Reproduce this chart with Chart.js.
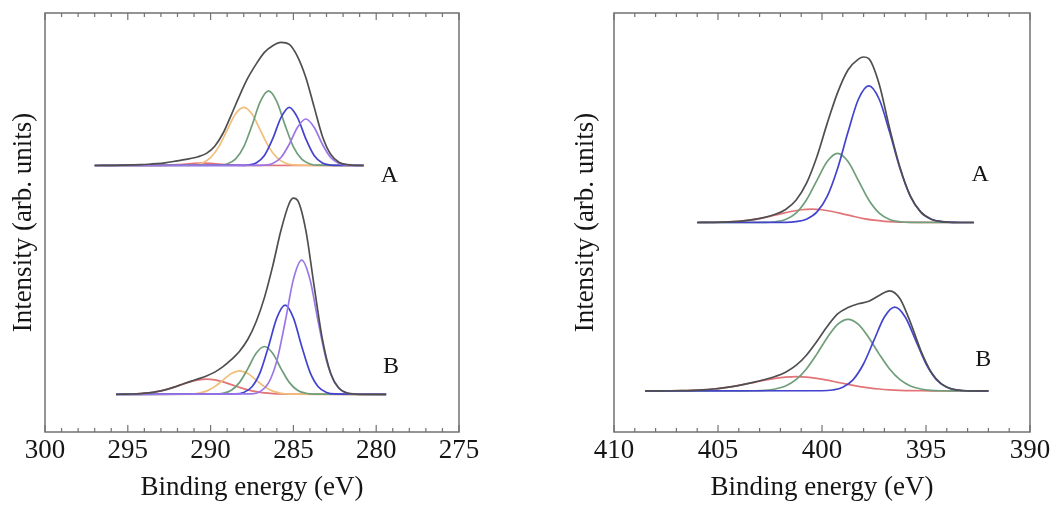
<!DOCTYPE html>
<html>
<head>
<meta charset="utf-8">
<script src="https://cdn.jsdelivr.net/npm/chart.js@4.4.0/dist/chart.umd.min.js"></script>
<style>
  html, body { margin: 0; padding: 0; background: #fff; }
  #wrap { position: relative; width: 1057px; height: 506px; }
  .panel { position: absolute; top: 0; height: 506px; }
  #c1s { left: 0; width: 530px; }
  #n1s { left: 530px; width: 527px; }
</style>
</head>
<body>
<div id="wrap">
  <div class="panel" id="c1s"><canvas id="c1sChart"></canvas></div>
  <div class="panel" id="n1s"><canvas id="n1sChart"></canvas></div>
</div>
<script>
// vertical offsets of the stacked spectra
const c1sOffsetA = 63.6;
const c1sOffsetB = 9.0;
const n1sOffsetA = 50.0;
const n1sOffsetB = 9.8;

// C 1s, spectrum A
const cA_env_x = [297.0, 295.75, 295.25, 294.75, 294.25, 293.75, 293.25, 292.75, 292.25, 291.75, 291.25, 290.75, 290.25, 289.75, 289.25, 288.75, 288.25, 287.75, 287.25, 286.75, 286.25, 285.75, 285.25, 284.75, 284.25, 283.75, 283.25, 282.75, 282.25, 281.75, 281.25, 280.75];
const cA_env_y = [0, 0.05, 0.1, 0.15, 0.2, 0.3, 0.45, 0.65, 0.95, 1.3, 1.65, 2.1, 2.9, 4.6, 7.7, 12.1, 16.7, 20.9, 24.2, 27.0, 28.6, 29.4, 28.9, 26.0, 21.0, 14.0, 7.0, 2.7, 0.8, 0.2, 0.05, 0];
const cA_red_x = [297, 293.5, 293, 292.5, 292, 291.5, 291, 290.5, 290, 289.5, 289, 288.5, 288, 287.5, 280.75];
const cA_red_y = [0, 0.01, 0.03, 0.08, 0.19, 0.36, 0.53, 0.6, 0.53, 0.36, 0.19, 0.08, 0.03, 0.01, 0];
const cA_orange_x = [297, 291, 290.5, 290, 289.5, 289, 288.5, 288, 287.5, 287, 286.5, 286, 285.5, 285, 280.75];
const cA_orange_y = [0, 0.15, 0.61, 1.88, 4.51, 8.43, 12.27, 13.9, 12.27, 8.43, 4.51, 1.88, 0.61, 0.15, 0];
const cA_green_x = [297, 289.5, 289, 288.5, 288, 287.5, 287, 286.5, 286, 285.5, 285, 284.5, 284, 283.5, 280.75];
const cA_green_y = [0, 0.07, 0.38, 1.51, 4.43, 9.59, 15.25, 17.8, 15.25, 9.59, 4.43, 1.51, 0.38, 0.07, 0];
const cA_blue_x = [297, 288.25, 287.75, 287.25, 286.75, 286.25, 285.75, 285.25, 284.75, 284.25, 283.75, 283.25, 282.75, 282.25, 280.75];
const cA_blue_y = [0, 0.01, 0.11, 0.61, 2.39, 6.37, 11.44, 13.9, 11.44, 6.37, 2.39, 0.61, 0.11, 0.01, 0];
const cA_purple_x = [297, 287.25, 286.75, 286.25, 285.75, 285.25, 284.75, 284.25, 283.75, 283.25, 282.75, 282.25, 281.75, 281.25, 280.75];
const cA_purple_y = [0, 0.01, 0.08, 0.49, 1.91, 5.08, 9.14, 11.1, 9.14, 5.08, 1.91, 0.49, 0.08, 0.01, 0];

// C 1s, spectrum B
const cB_env_x = [295.7, 295.25, 294.75, 294.25, 293.75, 293.25, 292.75, 292.25, 291.75, 291.25, 290.75, 290.25, 289.75, 289.25, 288.75, 288.25, 287.75, 287.25, 286.75, 286.25, 285.75, 285.25, 285.0, 284.75, 284.25, 283.75, 283.25, 282.75, 282.25, 281.75, 281.25, 280.75, 279.4];
const cB_env_y = [0, 0.03, 0.07, 0.16, 0.33, 0.62, 1.06, 1.65, 2.33, 3.02, 3.68, 4.37, 5.29, 6.6, 8.25, 10.29, 13.13, 17.31, 23.07, 30.58, 39.14, 45.6, 46.8, 46.3, 39.14, 25.88, 13.13, 5.03, 1.43, 0.3, 0.05, 0, 0];
const cB_red_x = [295.7, 295.25, 294.75, 294.25, 293.75, 293.25, 292.75, 292.25, 291.75, 291.25, 290.75, 290.25, 289.75, 289.25, 288.75, 288.25, 287.75, 287.25, 286.75, 286.25, 285.75, 285.25, 279.4];
const cB_red_y = [0, 0.03, 0.07, 0.16, 0.33, 0.62, 1.06, 1.65, 2.32, 2.96, 3.43, 3.6, 3.43, 2.96, 2.32, 1.65, 1.06, 0.62, 0.33, 0.16, 0.07, 0.03, 0];
const cB_orange_x = [295.7, 291.25, 290.75, 290.25, 289.75, 289.25, 288.75, 288.25, 287.75, 287.25, 286.75, 286.25, 285.75, 285.25, 279.4];
const cB_orange_y = [0, 0.06, 0.25, 0.76, 1.82, 3.4, 4.94, 5.6, 4.94, 3.4, 1.82, 0.76, 0.25, 0.06, 0];
const cB_green_x = [295.7, 289.75, 289.25, 288.75, 288.25, 287.75, 287.25, 286.75, 286.25, 285.75, 285.25, 284.75, 284.25, 283.75, 279.4];
const cB_green_y = [0, 0.04, 0.24, 0.96, 2.84, 6.14, 9.77, 11.4, 9.77, 6.14, 2.84, 0.96, 0.24, 0.04, 0];
const cB_blue_x = [295.7, 288.5, 288, 287.5, 287, 286.5, 286, 285.5, 285, 284.5, 284, 283.5, 283, 282.5, 279.4];
const cB_blue_y = [0, 0.08, 0.45, 1.8, 5.3, 11.48, 18.25, 21.3, 18.25, 11.48, 5.3, 1.8, 0.45, 0.08, 0];
const cB_purple_x = [295.7, 287.5, 287, 286.5, 286, 285.5, 285, 284.5, 284, 283.5, 283, 282.5, 282, 281.5, 279.4];
const cB_purple_y = [0, 0.12, 0.68, 2.71, 7.97, 17.25, 27.42, 32, 27.42, 17.25, 7.97, 2.71, 0.68, 0.12, 0];

// N 1s, spectrum A
const nA_env_x = [406.0, 405.75, 405.25, 404.75, 404.25, 403.75, 403.25, 402.75, 402.25, 401.75, 401.25, 400.75, 400.25, 399.75, 399.25, 398.75, 398.25, 398.0, 397.75, 397.25, 396.75, 396.25, 395.75, 395.25, 394.75, 394.25, 393.75, 393.25, 392.7];
const nA_env_y = [0, 0.01, 0.04, 0.09, 0.2, 0.41, 0.74, 1.23, 1.95, 3.12, 5.31, 9.31, 15.63, 23.66, 31.0, 36.4, 39.0, 39.5, 39.1, 33.0, 22.5, 13.15, 6.31, 2.47, 0.79, 0.21, 0.04, 0, 0];
const nA_red_x = [406, 405.5, 405, 404.5, 404, 403.5, 403, 402.5, 402, 401.5, 401, 400.5, 400, 399.5, 399, 398.5, 398, 397.5, 397, 396.5, 396, 395.5, 392.7];
const nA_red_y = [0, 0.02, 0.06, 0.14, 0.29, 0.55, 0.94, 1.47, 2.06, 2.63, 3.05, 3.2, 3.05, 2.63, 2.06, 1.47, 0.94, 0.55, 0.29, 0.14, 0.06, 0.02, 0];
const nA_green_x = [406, 402.75, 402.25, 401.75, 401.25, 400.75, 400.25, 399.75, 399.25, 398.75, 398.25, 397.75, 397.25, 396.75, 396.25, 395.75, 392.7];
const nA_green_y = [0, 0.04, 0.18, 0.72, 2.23, 5.36, 10.01, 14.56, 16.5, 14.56, 10.01, 5.36, 2.23, 0.72, 0.18, 0.04, 0];
const nA_blue_x = [406, 401.75, 401.25, 400.75, 400.25, 399.75, 399.25, 398.75, 398.25, 397.75, 397.25, 396.75, 396.25, 395.75, 395.25, 394.75, 394.25, 393.75, 392.7];
const nA_blue_y = [0, 0.04, 0.21, 0.79, 2.46, 6.23, 12.88, 21.58, 29.41, 32.6, 29.41, 21.58, 12.88, 6.23, 2.46, 0.79, 0.21, 0.04, 0];

// N 1s, spectrum B
const nB_env_x = [408.5, 408.25, 407.75, 407.25, 406.75, 406.25, 405.75, 405.25, 404.75, 404.25, 403.75, 403.25, 402.75, 402.25, 401.75, 401.25, 400.75, 400.25, 399.75, 399.25, 398.75, 398.25, 397.75, 397.25, 396.75, 396.25, 395.75, 395.25, 394.75, 394.25, 393.75, 393.25, 392.75, 392.25, 392.0];
const nB_env_y = [0, 0.01, 0.02, 0.04, 0.08, 0.15, 0.27, 0.46, 0.74, 1.1, 1.57, 2.1, 2.72, 3.46, 4.48, 6.08, 8.52, 11.81, 15.39, 18.41, 19.9, 20.8, 21.4, 22.8, 23.9, 22.0, 16.37, 9.66, 4.5, 1.63, 0.47, 0.1, 0.02, 0, 0];
const nB_red_x = [408.5, 408.25, 407.75, 407.25, 406.75, 406.25, 405.75, 405.25, 404.75, 404.25, 403.75, 403.25, 402.75, 402.25, 401.75, 401.25, 400.75, 400.25, 399.75, 399.25, 398.75, 398.25, 397.75, 397.25, 396.75, 396.25, 395.75, 395.25, 394.75, 394.25, 392.0];
const nB_red_y = [0, 0.01, 0.02, 0.04, 0.08, 0.15, 0.27, 0.46, 0.74, 1.1, 1.56, 2.06, 2.57, 3.0, 3.29, 3.4, 3.29, 3.0, 2.57, 2.06, 1.56, 1.1, 0.74, 0.46, 0.27, 0.15, 0.08, 0.04, 0.02, 0.01, 0];
const nB_green_x = [408.5, 403.75, 403.25, 402.75, 402.25, 401.75, 401.25, 400.75, 400.25, 399.75, 399.25, 398.75, 398.25, 397.75, 397.25, 396.75, 396.25, 395.75, 395.25, 394.75, 394.25, 393.75, 392.0];
const nB_green_y = [0, 0.01, 0.04, 0.15, 0.46, 1.19, 2.68, 5.23, 8.79, 12.72, 15.89, 17.1, 15.89, 12.72, 8.79, 5.23, 2.68, 1.19, 0.46, 0.15, 0.04, 0.01, 0];
const nB_blue_x = [408.5, 400, 399.5, 399, 398.5, 398, 397.5, 397, 396.5, 396, 395.5, 395, 394.5, 394, 393.5, 393, 392.0];
const nB_blue_y = [0, 0.04, 0.22, 0.88, 2.71, 6.49, 12.13, 17.65, 20, 17.65, 12.13, 6.49, 2.71, 0.88, 0.22, 0.04, 0];

const colors = {
  env: '#4f4f4f',
  red: '#e27478',
  orange: '#f2be7c',
  green: '#6f9e7a',
  blue: '#4343cf',
  purple: '#9b76e8'
};

function line(xs, ys, offset, color) {
  return {
    data: xs.map((x, i) => ({ x: x, y: ys[i] + offset })),
    borderColor: color,
    borderWidth: 1.7,
    pointRadius: 0,
    fill: false,
    cubicInterpolationMode: 'monotone'
  };
}

const serif = "'Liberation Serif', 'Times New Roman', serif";

const framePlugin = {
  id: 'frame',
  afterDraw(chart, args, opts) {
    const { ctx, chartArea: a, scales: { x, y } } = chart;
    ctx.save();
    ctx.strokeStyle = '#727272';
    ctx.lineWidth = 1.5;
    ctx.strokeRect(a.left, a.top, a.right - a.left, a.bottom - a.top);
    ctx.lineWidth = 1.2;
    const lo = Math.min(x.min, x.max), hi = Math.max(x.min, x.max);
    for (let v = Math.ceil(lo); v <= hi; v++) {
      const px = x.getPixelForValue(v);
      const len = v % 5 === 0 ? 7 : 4;
      ctx.beginPath();
      ctx.moveTo(px, a.bottom);
      ctx.lineTo(px, a.bottom - len);
      ctx.moveTo(px, a.top);
      ctx.lineTo(px, a.top + len);
      ctx.stroke();
    }
    ctx.fillStyle = '#151515';
    ctx.font = '24px ' + serif;
    ctx.textAlign = 'center';
    ctx.textBaseline = 'alphabetic';
    opts.tags.forEach(t => ctx.fillText(t.text, x.getPixelForValue(t.x), y.getPixelForValue(t.y)));
    ctx.restore();
  }
};

function makeChart(id, datasets, xmin, xmax, padRight, yWidth, titlePad, tags) {
  return new Chart(document.getElementById(id), {
    type: 'line',
    data: { datasets: datasets },
    options: {
      responsive: true,
      maintainAspectRatio: false,
      animation: false,
      layout: { padding: { left: 0, right: padRight, top: 13, bottom: 0 } },
      plugins: {
        legend: { display: false },
        tooltip: { enabled: false },
        frame: { tags: tags }
      },
      scales: {
        x: {
          type: 'linear',
          reverse: true,
          min: xmin,
          max: xmax,
          grid: { display: false, drawTicks: false },
          border: { display: false },
          ticks: { stepSize: 5, color: '#151515', padding: 3, font: { family: serif, size: 27 } },
          title: { display: true, text: 'Binding energy (eV)', color: '#151515',
                   font: { family: serif, size: 27 }, padding: { top: 0, bottom: 2 } },
          afterFit(s) { s.height = 74; }
        },
        y: {
          min: 0,
          max: 100,
          grid: { display: false, drawTicks: false },
          border: { display: false },
          ticks: { display: false },
          title: { display: true, text: 'Intensity (arb. units)', color: '#151515',
                   font: { family: serif, size: 27 }, padding: { top: titlePad, bottom: 0 } },
          afterFit(s) { s.width = yWidth; }
        }
      }
    },
    plugins: [framePlugin]
  });
}

makeChart('c1sChart', [
  line(cA_env_x, cA_env_y, c1sOffsetA, colors.env),
  line(cA_purple_x, cA_purple_y, c1sOffsetA, colors.purple),
  line(cA_blue_x, cA_blue_y, c1sOffsetA, colors.blue),
  line(cA_green_x, cA_green_y, c1sOffsetA, colors.green),
  line(cA_orange_x, cA_orange_y, c1sOffsetA, colors.orange),
  line(cA_red_x, cA_red_y, c1sOffsetA, colors.red),
  line(cB_env_x, cB_env_y, c1sOffsetB, colors.env),
  line(cB_purple_x, cB_purple_y, c1sOffsetB, colors.purple),
  line(cB_blue_x, cB_blue_y, c1sOffsetB, colors.blue),
  line(cB_green_x, cB_green_y, c1sOffsetB, colors.green),
  line(cB_orange_x, cB_orange_y, c1sOffsetB, colors.orange),
  line(cB_red_x, cB_red_y, c1sOffsetB, colors.red)
], 275, 300, 71, 45, 8, [
  { text: 'A', x: 279.2, y: 59.7 },
  { text: 'B', x: 279.1, y: 14.1 }
]);

makeChart('n1sChart', [
  line(nA_env_x, nA_env_y, n1sOffsetA, colors.env),
  line(nA_blue_x, nA_blue_y, n1sOffsetA, colors.blue),
  line(nA_green_x, nA_green_y, n1sOffsetA, colors.green),
  line(nA_red_x, nA_red_y, n1sOffsetA, colors.red),
  line(nB_env_x, nB_env_y, n1sOffsetB, colors.env),
  line(nB_blue_x, nB_blue_y, n1sOffsetB, colors.blue),
  line(nB_green_x, nB_green_y, n1sOffsetB, colors.green),
  line(nB_red_x, nB_red_y, n1sOffsetB, colors.red)
], 390, 410, 27, 84, 40, [
  { text: 'A', x: 392.4, y: 59.9 },
  { text: 'B', x: 392.25, y: 15.8 }
]);
</script>
</body>
</html>
